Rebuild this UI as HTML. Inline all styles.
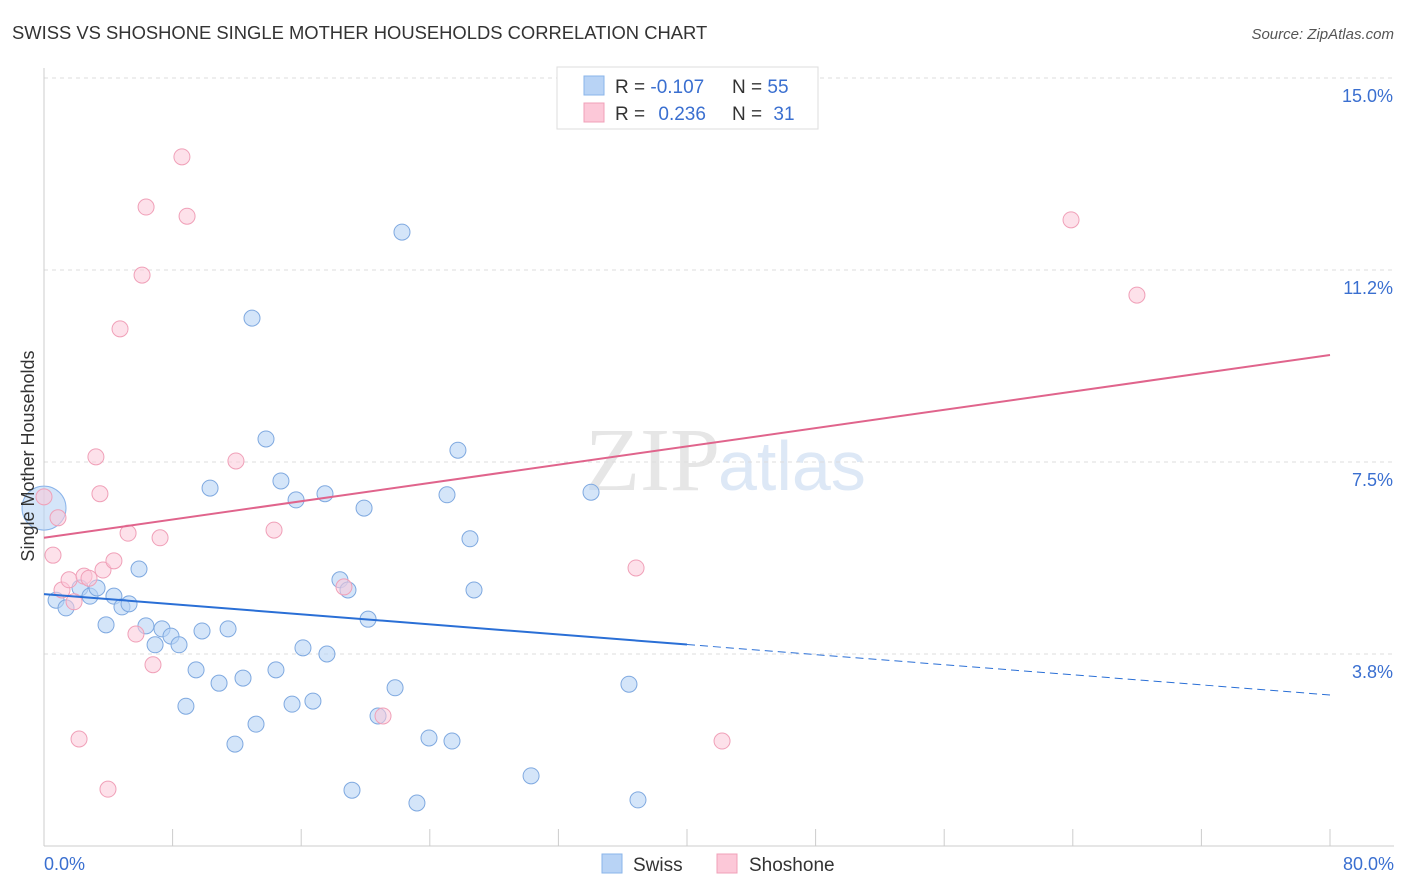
<!DOCTYPE html>
<html><head><meta charset="utf-8">
<style>
body{margin:0;background:#fff;font-family:"Liberation Sans",sans-serif;}
svg{display:block}
</style></head>
<body>
<svg id="chart" width="1406" height="892">
<text x="12" y="39" font-size="18.4" fill="#333">SWISS VS SHOSHONE SINGLE MOTHER HOUSEHOLDS CORRELATION CHART</text>
<text x="1394" y="39" font-size="15" fill="#555" font-style="italic" text-anchor="end">Source: ZipAtlas.com</text>
<text x="720" y="490" font-size="90" fill="#e6e6e6" text-anchor="end" font-family="Liberation Serif,serif">ZIP</text>
<text x="718" y="490" font-size="70" fill="#dde8f6">atlas</text>
<g id="grid"></g>
<g id="axes"></g>
<g id="marks"></g>
<g id="trends"></g>
<text transform="translate(34,456) rotate(-90)" font-size="18" fill="#333" text-anchor="middle">Single Mother Households</text>
<g>
<rect x="557" y="67" width="261" height="62" fill="#fff" stroke="#ddd"/>
<rect x="584" y="76" width="20" height="19" fill="#b8d3f5" stroke="#8ab4ea"/>
<rect x="584" y="103" width="20" height="19" fill="#fcc8d8" stroke="#f0a0b8"/>
<text x="615" y="93" font-size="19" fill="#333">R = <tspan fill="#3a6fd0">-0.107</tspan></text>
<text x="732" y="93" font-size="19" fill="#333">N = <tspan fill="#3a6fd0">55</tspan></text>
<text x="615" y="120" font-size="19" fill="#333">R = <tspan fill="#3a6fd0" dx="8">0.236</tspan></text>
<text x="732" y="120" font-size="19" fill="#333">N = <tspan fill="#3a6fd0" dx="6">31</tspan></text>
</g>
<g>
<rect x="602" y="854" width="20" height="19" fill="#b8d3f5" stroke="#8ab4ea"/>
<text x="633" y="871" font-size="19" fill="#333">Swiss</text>
<rect x="717" y="854" width="20" height="19" fill="#fcc8d8" stroke="#f0a0b8"/>
<text x="749" y="871" font-size="19" fill="#333">Shoshone</text>
</g>
</svg>
<script>
const swissX=[0.75,1.37,2.24,2.86,3.30,3.86,4.35,4.85,5.29,5.91,6.34,6.91,7.34,7.90,8.40,8.83,9.46,9.83,10.33,10.89,11.45,11.88,12.38,12.94,13.19,13.81,14.43,14.74,15.43,15.68,16.11,16.73,17.48,17.60,18.41,18.91,19.16,19.91,20.16,20.78,21.84,22.27,23.20,23.95,25.07,25.38,25.75,26.50,26.75,30.30,34.03,36.39,36.95];
const swissY=[4.80,4.65,5.04,4.88,5.04,4.32,4.88,4.67,4.73,5.41,4.30,3.93,4.24,4.10,3.93,2.73,3.44,4.20,6.99,3.18,4.24,1.99,3.28,10.31,2.38,7.95,3.44,7.13,2.77,6.76,3.87,2.83,6.88,3.75,5.20,5.00,1.09,6.60,4.43,2.54,3.09,11.99,0.84,2.11,6.86,2.05,7.73,6.00,5.00,1.37,6.91,3.16,0.90];
const shoX=[0,0.56,0.87,1.12,1.56,1.87,2.18,2.49,2.80,3.23,3.48,3.67,3.98,4.35,4.73,5.23,5.72,6.10,6.35,6.78,7.22,8.58,8.90,11.94,14.31,18.66,21.09,36.83,42.18,63.89,67.99];
const shoY=[6.82,5.68,6.41,5.00,5.20,4.77,2.09,5.27,5.23,7.60,6.88,5.39,1.11,5.57,10.10,6.11,4.14,11.15,12.48,3.54,6.02,13.46,12.30,7.52,6.17,5.06,2.54,5.43,2.05,12.23,10.76];
const yTicks=[3.8,7.5,11.2,15.0];
const yTickVals=[3.75,7.5,11.25,15.0];
const swissTrend=[4.92,2.95];
const shoTrend=[6.02,9.59];
const NS="http://www.w3.org/2000/svg";
const X=v=>44+v*16.075, Y=v=>846-v*51.2;
function mk(t,a,p){const e=document.createElementNS(NS,t);for(const k in a)e.setAttribute(k,a[k]);document.getElementById(p).appendChild(e);return e;}
yTickVals.forEach((v,i)=>{
 const l=mk('line',{x1:44,x2:1394,y1:Y(v),y2:Y(v),stroke:'#ddd','stroke-dasharray':'4,4'},'grid');
 
 
 const t=mk('text',{x:1393,y:Y(v)+24,'font-size':18,fill:'#3a6fd0','text-anchor':'end'},'axes');
 t.textContent=yTicks[i].toFixed(1)+'%';
 
 
});
const ax=mk('line',{x1:44,x2:1394,y1:846,y2:846,stroke:'#ccc'},'axes');


const ay=mk('line',{x1:44,x2:44,y1:68,y2:846,stroke:'#ccc'},'axes');


for(let i=0;i<=10;i++){const t=mk('line',{x1:X(i*8),x2:X(i*8),y1:829,y2:846,stroke:'#ccc'},'axes');
 
 }
[['0.0%',44,'start'],['80.0%',1394,'end']].forEach(d=>{const t=mk('text',{x:d[1],y:870,'font-size':18,fill:'#3a6fd0','text-anchor':d[2]},'axes');t.textContent=d[0];
 
 });
const big=mk('circle',{cx:X(0),cy:Y(6.6),r:22,fill:'#b8d3f5','fill-opacity':0.6,stroke:'#8ab4ea'},'marks');


swissX.forEach((x,i)=>{const c=mk('circle',{cx:X(x),cy:Y(swissY[i]),r:8,fill:'#b8d3f5','fill-opacity':0.6,stroke:'#7fa9e0'},'marks');
 
 });
shoX.forEach((x,i)=>{const c=mk('circle',{cx:X(x),cy:Y(shoY[i]),r:8,fill:'#fcc8d8','fill-opacity':0.55,stroke:'#f0a0b8'},'marks');
 
 });
const sm=(swissTrend[0]+swissTrend[1])/2;
const l1=mk('line',{x1:X(0),y1:Y(swissTrend[0]),x2:X(40),y2:Y(sm),stroke:'#2a6fd6','stroke-width':2},'trends');


const l2=mk('line',{x1:X(40),y1:Y(sm),x2:X(80),y2:Y(swissTrend[1]),stroke:'#2a6fd6','stroke-width':1,'stroke-dasharray':'8,5'},'trends');


const l3=mk('line',{x1:X(0),y1:Y(shoTrend[0]),x2:X(80),y2:Y(shoTrend[1]),stroke:'#e0648c','stroke-width':2},'trends');


</script>
</body></html>
